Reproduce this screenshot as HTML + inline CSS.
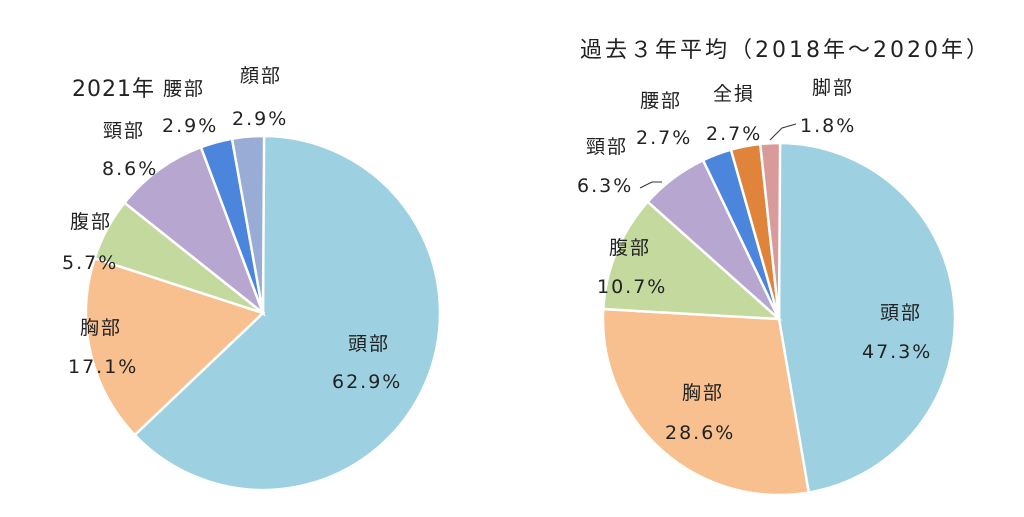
<!DOCTYPE html>
<html><head><meta charset="utf-8"><style>
html,body{margin:0;padding:0;background:#fff;}
svg text{font-family:"DejaVu Sans","Noto Sans CJK JP",sans-serif;font-size:19px;letter-spacing:2px;fill:#222;}
</style></head><body>
<svg id="s" width="1024" height="512" viewBox="0 0 1024 512" xmlns="http://www.w3.org/2000/svg">
<g id="p1"></g><g id="p2"></g>
<text x="72" y="96" style="font-size:22px;letter-spacing:1px">2021年</text>
<text x="163" y="95">腰部</text>
<text x="240" y="82">顔部</text>
<text x="162" y="132">2.9%</text>
<text x="232" y="125">2.9%</text>
<text x="103" y="137">頸部</text>
<text x="102" y="175">8.6%</text>
<text x="70" y="228">腹部</text>
<text x="62" y="269">5.7%</text>
<text x="80" y="334">胸部</text>
<text x="68" y="373">17.1%</text>
<text x="348" y="350">頭部</text>
<text x="332" y="388">62.9%</text>
<text x="580" y="57" style="font-size:22px;letter-spacing:3px">過去３年平均（2018年～2020年）</text>
<text x="640" y="107">腰部</text>
<text x="713" y="100">全損</text>
<text x="812" y="94">脚部</text>
<text x="636" y="144">2.7%</text>
<text x="706" y="140">2.7%</text>
<text x="800" y="132">1.8%</text>
<text x="586" y="153">頸部</text>
<text x="577" y="192">6.3%</text>
<text x="609" y="254">腹部</text>
<text x="597" y="293">10.7%</text>
<text x="682" y="399">胸部</text>
<text x="665" y="439">28.6%</text>
<text x="880" y="319">頭部</text>
<text x="862" y="358">47.3%</text>
<polyline points="640,188 652,182 662,182" fill="none" stroke="#333" stroke-width="1"/>
<polyline points="770,140 782,128 796,124" fill="none" stroke="#333" stroke-width="1"/>
</svg>
<script>
function pie(id,cx,cy,r,data){
 var g=document.getElementById(id),a=0,h='';
 data.forEach(function(d){
  var a0=a,a1=a+d[0]/100*2*Math.PI;a=a1;
  var x0=cx+r*Math.sin(a0),y0=cy-r*Math.cos(a0),x1=cx+r*Math.sin(a1),y1=cy-r*Math.cos(a1);
  h+='<path d="M'+cx+','+cy+' L'+x0+','+y0+' A'+r+','+r+' 0 '+(a1-a0>Math.PI?1:0)+' 1 '+x1+','+y1+' Z" fill="'+d[1]+'" stroke="#fff" stroke-width="2.5"/>';
 });
 g.innerHTML=h;
}
pie('p1',263,313,177,[[62.9,'#9dd0e0'],[17.1,'#f9c08f'],[5.7,'#c4d99e'],[8.6,'#b7a6cf'],[2.9,'#4c86dc'],[2.9,'#98acd6']]);
pie('p2',779,319,176,[[47.3,'#9dd0e0'],[28.6,'#f9c08f'],[10.7,'#c4d99e'],[6.3,'#b7a6cf'],[2.7,'#4c86dc'],[2.7,'#e0843c'],[1.8,'#d99a9a']]);
</script>
</body></html>
